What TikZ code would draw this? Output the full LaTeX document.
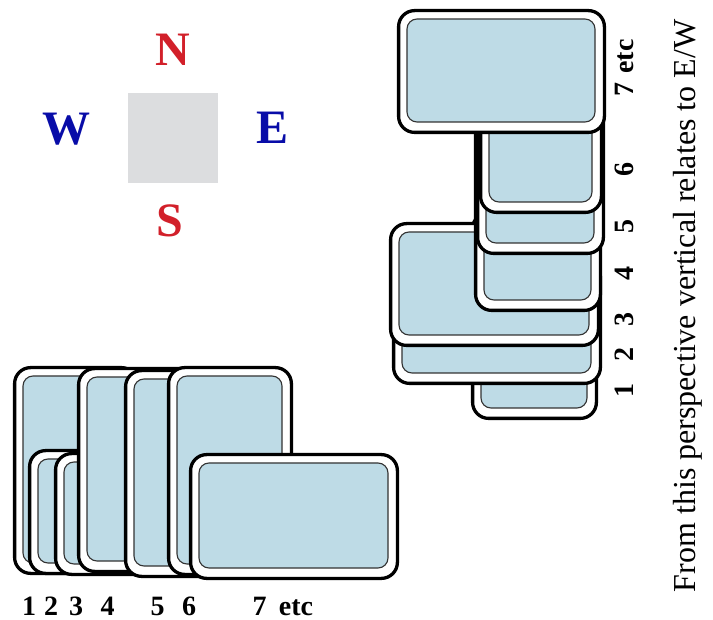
\documentclass[tikz,border=0pt]{standalone}
\usepackage{fontspec}
\setmainfont{Liberation Serif}
\usetikzlibrary{calc}

\definecolor{tileblue}{RGB}{190,219,230}
\definecolor{compassred}{RGB}{210,32,42}
\definecolor{compassblue}{RGB}{8,12,168}
\definecolor{squaregray}{RGB}{220,221,223}

\tikzset{
  tileout/.style={draw=black, fill=white, line width=3.3pt, rounded corners=16pt},
  tilein/.style={draw=black!80, fill=tileblue, line width=1.1pt, rounded corners=10pt},
  compassN/.style={text=compassred, font=\bfseries\fontsize{48}{48}\selectfont, inner sep=0pt, anchor=base},
  compassE/.style={text=compassblue, font=\bfseries\fontsize{48}{48}\selectfont, inner sep=0pt, anchor=base},
  numlabel/.style={font=\bfseries\fontsize{28}{28}\selectfont, inner sep=0pt, anchor=base},
  sidelabel/.style={numlabel, rotate=90},
  note/.style={font=\fontsize{32}{32}\selectfont, inner sep=0pt, anchor=base, rotate=90}
}

% one tile: outer edges (x1,y1)-(x2,y2), y grows downwards
\newcommand\drawtile[4]{%
  \draw[tileout] ($(#1,#2)+(1.6,1.6)$) rectangle ($(#3,#4)+(-1.6,-1.6)$);
  \draw[tilein] ($(#1,#2)+(10,10)$) rectangle ($(#3,#4)+(-11,-12)$);
}

\begin{document}
\begin{tikzpicture}[x=1pt, y=-1pt]
  \useasboundingbox (0,0) rectangle (713,620);

  % compass
  \fill[squaregray] (128,93) rectangle (218,183);
  \node[compassN] (north) at (173,66) {N};
  \node[compassN] (south) at (170,237) {S};
  \node[compassE] (west) at (66,145) {W};
  \node[compassE] (east) at (273,144) {E};

  % tiles seen from the side, laid left to right
  \drawtile{13}{366}{139}{575}
  \drawtile{28}{449}{154}{575}
  \drawtile{54}{452}{180}{576}
  \drawtile{77}{367}{203}{573}
  \drawtile{124}{369}{250}{578}
  \drawtile{167}{366}{293}{576}
  \drawtile{189}{453}{399}{580}

  \node[numlabel] (b1) at (29,615) {1};
  \node[numlabel] (b2) at (51,615) {2};
  \node[numlabel] (b3) at (76,615) {3};
  \node[numlabel] (b4) at (107.5,615) {4};
  \node[numlabel] (b5) at (157.5,615) {5};
  \node[numlabel] (b6) at (189,615) {6};
  \node[numlabel] (b7) at (259.5,615) {7};
  \node[numlabel] (betc) at (296,615) {etc};

  % tiles stacked, bottom to top
  \drawtile{471}{211}{598}{420}
  \drawtile{392}{259}{602}{385}
  \drawtile{389}{222}{600}{347}
  \drawtile{474}{103}{602}{312}
  \drawtile{476}{46}{605}{255}
  \drawtile{479}{14}{603}{214}
  \drawtile{397}{9}{606}{134}

  \node[sidelabel] (r1) at (633,391) {1};
  \node[sidelabel] (r2) at (633,355) {2};
  \node[sidelabel] (r3) at (633,320) {3};
  \node[sidelabel] (r4) at (633,274) {4};
  \node[sidelabel] (r5) at (633,227) {5};
  \node[sidelabel] (r6) at (633,170) {6};
  \node[sidelabel] (r7) at (633,90) {7};
  \node[sidelabel] (retc) at (633,56.5) {etc};

  \node[note] (caption) at (695,306) {From this perspective vertical relates to E/W};
\end{tikzpicture}
\end{document}
